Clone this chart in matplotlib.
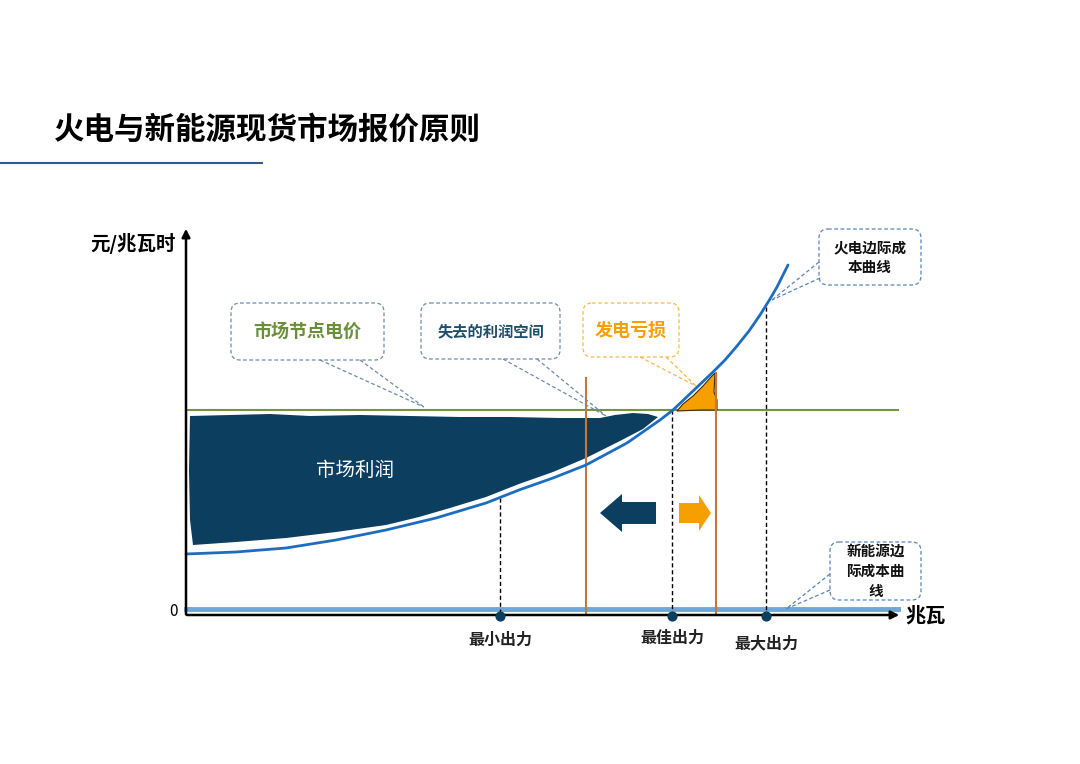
import numpy as np
import matplotlib.pyplot as plt
from matplotlib.patches import FancyBboxPatch, Polygon

plt.rcParams['font.family'] = ['Noto Sans CJK SC', 'DejaVu Sans']

# ---- data (pixel coordinates of the sketch, y grows downward) ----
title = '火电与新能源现货市场报价原则'

# thermal marginal cost curve
cost_x = [186, 236, 286, 336, 386, 436, 486, 519, 553, 586, 627, 660, 673, 693, 713, 725, 737, 749, 760, 770, 777, 788]
cost_y = [554, 552, 548, 540, 530, 518, 503, 490, 478, 465, 443, 420, 410, 391, 372, 360, 346, 331, 315, 299, 287, 265]

# market profit region (hand drawn blob)
profit_x = [190, 230, 270, 310, 360, 410, 460, 510, 560, 600, 615, 633, 648, 658,
            643, 620, 600, 586, 553, 519, 486, 450, 419, 386, 336, 286, 236, 193, 190, 189]
profit_y = [416, 415, 414, 416, 415, 416, 417, 417, 418, 418, 415, 413, 414, 417,
            429, 441, 451, 458, 472, 484, 497, 508, 517, 525, 532, 538, 542, 545, 520, 470]

# generation loss region
loss_x = [677, 683, 693, 703, 711, 715, 714, 717, 717, 700]
loss_y = [411, 404, 396, 386, 377, 373, 392, 400, 410, 410]

price_y = 410          # market node price
newenergy_y = 609      # new energy marginal cost
axis_y = 615
axis_x0 = 186

marks_x = [500, 672, 766]
marks_top = [498, 410, 307]
mark_labels = ['最小出力', '最佳出力', '最大出力']
mark_label_y = [640, 638, 643]

orange_lines_x = [586, 716]
orange_lines_top = [378, 373]

fig = plt.figure(figsize=(10.8, 7.64), dpi=100)
ax = fig.add_axes([0, 0, 1, 1])
ax.set_xlim(0, 1080)
ax.set_ylim(764, 0)
ax.axis('off')

# title and underline
ax.text(54, 130, title, fontsize=22, fontweight='heavy', va='center', ha='left', color='black')
ax.plot([0, 262], [163, 163], color='#2e5c8a', lw=1.5)

# profit region
ax.add_patch(Polygon(np.column_stack([profit_x, profit_y]), closed=True,
                     facecolor='#0c3f5f', edgecolor='none', zorder=2))
ax.text(355, 470, '市场利润', color='white', fontsize=14, ha='center', va='center', zorder=3)

# loss region
ax.add_patch(Polygon(np.column_stack([loss_x, loss_y]), closed=True,
                     facecolor='#f5a000', edgecolor='#3a2a10', lw=0.8, zorder=3))

# lines
ax.plot([axis_x0, 898], [price_y, price_y], color='#77933c', lw=1.5, zorder=2)
ax.plot([axis_x0, 898], [newenergy_y, newenergy_y], color='#6fa6db', lw=3.5, zorder=2)
ax.plot(cost_x, cost_y, color='#1c6dc0', lw=2, zorder=4, solid_capstyle='round',
        solid_joinstyle='round')

for x, top in zip(orange_lines_x, orange_lines_top):
    ax.plot([x, x], [top, axis_y], color='#c8763a', lw=1.5, zorder=3)

for x, top in zip(marks_x, marks_top):
    ax.plot([x, x], [top, axis_y], color='black', lw=1, ls=(0, (3, 2)), zorder=3)
ax.scatter(marks_x, [axis_y + 1] * 3, s=40, color='#0c3f5f', zorder=6)
for x, lab, y in zip(marks_x, mark_labels, mark_label_y):
    ax.text(x, y, lab, fontsize=11.5, fontweight='bold', ha='center', va='center', color='#222222')

# axes with arrows
ax.annotate('', xy=(186, 226), xytext=(186, 617),
            arrowprops=dict(arrowstyle='-|>', color='black', lw=1.8, mutation_scale=12), zorder=5)
ax.annotate('', xy=(902, 615), xytext=(184, 615),
            arrowprops=dict(arrowstyle='-|>', color='black', lw=1.8, mutation_scale=12), zorder=5)
ax.text(176, 243, '元/兆瓦时', fontsize=14, fontweight='bold', ha='right', va='center')
ax.text(178, 611, '0', fontsize=11, ha='right', va='center')
ax.text(905, 615, '兆瓦', fontsize=14.5, fontweight='bold', ha='left', va='center')

# direction arrows
ax.add_patch(Polygon([[656, 502], [622, 502], [622, 494], [600, 513], [622, 532], [622, 524], [656, 524]],
                     closed=True, facecolor='#0c3f5f', edgecolor='none', zorder=3))
ax.add_patch(Polygon([[679, 503], [699, 503], [699, 495], [711, 513], [699, 531], [699, 523], [679, 523]],
                     closed=True, facecolor='#f5a000', edgecolor='none', zorder=3))

# callouts
def callout(x0, y0, x1, y1, text, tcolor, bcolor, fs, tail, tip):
    ax.add_patch(FancyBboxPatch((x0, y0), x1 - x0, y1 - y0,
                                boxstyle='round,pad=0,rounding_size=9',
                                facecolor='white', edgecolor=bcolor, lw=0.9,
                                ls=(0, (3, 2)), zorder=5))
    ax.text((x0 + x1) / 2, (y0 + y1) / 2, text, color=tcolor, fontsize=fs,
            fontweight='bold', ha='center', va='center', zorder=6, linespacing=1.3)
    for p in tail:
        ax.plot([p[0], tip[0]], [p[1], tip[1]], color=bcolor, lw=0.9, ls=(0, (3, 2)), zorder=5)

callout(231, 303, 384, 360, '市场节点电价', '#6a8f3a', '#6f8ca8', 13,
        [(320, 360), (360, 360)], (424, 407))
callout(421, 303, 560, 359, '失去的利润空间', '#1d4e6b', '#6f8ca8', 11,
        [(503, 359), (537, 359)], (606, 416))
callout(583, 303, 679, 357, '发电亏损', '#f5a000', '#f5b94a', 13,
        [(640, 357), (666, 357)], (696, 386))
callout(819, 229, 921, 285, '火电边际成\n本曲线', '#111111', '#5a85b8', 10.5,
        [(819, 262), (820, 278)], (772, 300))
callout(830, 542, 921, 600, '新能源边\n际成本曲\n线', '#111111', '#5a85b8', 10.5,
        [(830, 574), (830, 590)], (786, 609))

fig.savefig('out.png', dpi=100)
